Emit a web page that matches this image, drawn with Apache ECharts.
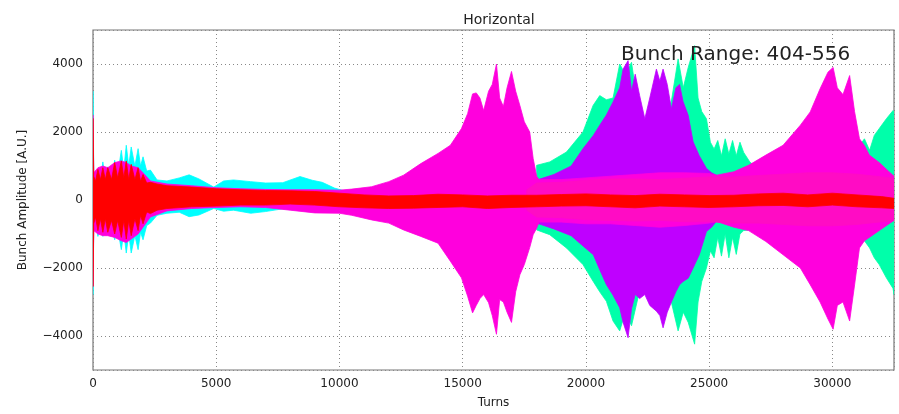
<!DOCTYPE html>
<html>
<head>
<meta charset="utf-8">
<script src="https://cdn.jsdelivr.net/npm/echarts@6/dist/echarts.min.js"></script>
<style>
html,body{margin:0;padding:0;background:#fff;}
#chart{width:899px;height:414px;}
</style>
</head>
<body>
<div id="chart"></div>
<script>
// ---- Data (envelopes of each bunch group) ----
const xTicks = [0, 5000, 10000, 15000, 20000, 25000, 30000];
const yTicks = [-4000, -2000, 0, 2000, 4000];

// cyan group
const cyanTurns = [0, 30, 100, 200, 300, 400, 500, 600, 750, 880, 1000, 1150, 1250, 1350, 1450, 1550, 1700, 1830, 1930, 2030, 2180, 2330, 2600, 3000, 3500, 3900, 4300, 4900, 5300, 5700, 6400, 7000, 7700, 8400, 8900, 9300, 9800, 10300, 10600];
const cyanUpper = [3200, 800, 600, 680, 550, 1120, 600, 975, 650, 1170, 750, 1460, 900, 1610, 1000, 1560, 1000, 1510, 1000, 1270, 850, 880, 590, 560, 650, 740, 620, 380, 560, 590, 540, 500, 510, 690, 580, 520, 350, 250, 150];
const cyanLower = [-2780, -800, -600, -1070, -650, -1070, -700, -1020, -750, -1170, -850, -1460, -950, -1560, -1000, -1560, -1050, -1460, -950, -1170, -750, -680, -450, -390, -360, -490, -440, -250, -330, -300, -390, -340, -260, -300, -350, -330, -320, -220, -150];

// green group
const greenTurns = [18000, 18530, 19210, 19880, 20290, 20560, 20830, 21100, 21370, 21600, 21850, 22200, 22600, 23000, 23400, 23740, 23950, 24150, 24410, 24550, 24700, 24890, 25050, 25200, 25350, 25500, 25650, 25800, 25950, 26100, 26250, 26400, 26650, 27000, 28000, 29000, 30000, 30500, 31000, 31300, 31510, 31700, 31900, 32190, 32460, 32500];
const greenUpper = [1020, 1120, 1410, 2000, 2780, 3070, 2950, 3000, 4000, 3700, 4050, 2300, 2400, 2800, 2600, 4150, 3300, 3900, 4540, 3000, 2600, 2390, 1700, 1500, 1750, 1300, 1800, 1350, 1750, 1300, 1700, 1400, 1120, 900, 1100, 1800, 2500, 2400, 1500, 1800, 1460, 1900, 2100, 2390, 2630, 2600];
const greenLower = [-880, -1020, -1410, -1900, -2390, -2700, -2980, -3560, -3850, -3300, -3700, -2600, -2800, -3000, -2800, -3850, -3300, -3600, -4240, -3000, -2400, -2000, -1500, -1700, -1100, -1650, -1000, -1700, -1100, -1600, -1000, -900, -880, -800, -1000, -1700, -2400, -2300, -1300, -1200, -1410, -1700, -1900, -2290, -2600, -2780];

// purple group
const purpleTurns = [18000, 18700, 19400, 19880, 20300, 20560, 20830, 21100, 21370, 21510, 21710, 21850, 22000, 22180, 22390, 22590, 22860, 23000, 23130, 23300, 23470, 23650, 23800, 23940, 24150, 24350, 24600, 24890, 25100, 25290, 25500];
const purpleUpper = [585, 750, 1000, 1510, 1900, 2200, 2500, 2880, 3300, 3850, 4100, 3200, 3700, 3070, 2390, 3000, 3850, 3500, 3850, 3400, 2680, 3300, 3400, 2900, 2490, 1710, 1300, 930, 800, 730, 650];
const purpleLower = [-680, -850, -1050, -1350, -1610, -2050, -2490, -2800, -3170, -3600, -4050, -3200, -2780, -2900, -2780, -3100, -3270, -3400, -3760, -3300, -3000, -2700, -2490, -2400, -2300, -2000, -1610, -930, -800, -630, -600];

// magenta group
const magentaTurns = [0, 30, 200, 400, 600, 880, 1150, 1350, 1550, 1830, 2030, 2330, 3000, 4000, 5000, 6000, 7000, 8000, 9000, 10000, 10500, 11300, 12000, 12600, 13300, 14000, 14500, 14950, 15200, 15400, 15550, 15700, 15850, 16050, 16200, 16370, 16500, 16650, 16800, 16980, 17150, 17320, 17500, 17720, 17860, 18000, 18100, 19000, 20000, 21000, 22000, 23000, 24000, 25000, 25300, 26000, 26600, 27300, 28000, 28700, 29100, 29500, 29820, 30030, 30200, 30430, 30700, 30900, 31100, 31300, 31500, 31900, 32300, 32500];
const magentaUpper = [2500, 800, 950, 1000, 950, 1100, 1150, 1100, 1000, 950, 800, 560, 470, 420, 360, 330, 310, 300, 300, 290, 320, 390, 540, 730, 1070, 1370, 1610, 2100, 2540, 3120, 3150, 3000, 2630, 3200, 3400, 4000, 3000, 2750, 3300, 3780, 3200, 2780, 2300, 2000, 1220, 700, 600, 600, 650, 700, 750, 800, 800, 780, 730, 830, 1020, 1320, 1610, 2200, 2590, 3270, 3760, 3900, 3300, 3100, 3660, 2600, 1800, 1600, 1320, 1100, 830, 700];
const magentaLower = [-2540, -900, -1000, -1050, -1050, -1100, -1200, -1250, -1150, -1000, -800, -500, -320, -250, -220, -200, -220, -300, -380, -390, -450, -585, -680, -880, -1070, -1270, -1800, -2290, -2830, -3320, -3100, -2900, -2780, -3020, -3400, -3950, -2930, -3000, -3300, -3600, -2700, -2200, -1900, -1400, -1020, -830, -650, -650, -700, -700, -750, -800, -750, -680, -630, -800, -900, -1220, -1610, -2000, -2490, -3000, -3500, -3800, -3100, -3000, -3560, -2500, -1410, -1200, -1100, -900, -700, -600];

// inner pink group
const pinkTurns = [17600, 18000, 19000, 20000, 21000, 22000, 23000, 24000, 25000, 26000, 27000, 28000, 29000, 30000, 31000, 32000, 32500];
const pinkUpper = [300, 500, 520, 580, 620, 620, 600, 640, 680, 680, 720, 760, 800, 800, 760, 680, 640];
const pinkLower = [-300, -500, -520, -580, -600, -620, -600, -640, -640, -680, -680, -720, -760, -760, -720, -640, -600];

// red group
const redTurns = [0, 30, 100, 200, 300, 400, 500, 600, 750, 880, 1000, 1150, 1250, 1350, 1450, 1550, 1700, 1830, 1930, 2030, 2180, 2330, 2600, 3000, 4000, 5000, 6000, 7000, 8000, 9000, 10000, 11000, 12000, 13000, 14000, 15000, 16000, 17000, 18000, 19000, 20000, 21000, 22000, 23000, 24000, 25000, 26000, 27000, 28000, 29000, 30000, 31000, 32000, 32500];
const redUpper = [2400, 700, 550, 900, 600, 950, 600, 950, 600, 1100, 650, 1150, 650, 1150, 600, 1050, 600, 950, 550, 750, 500, 520, 470, 420, 380, 330, 300, 280, 270, 250, 200, 150, 120, 130, 170, 150, 120, 140, 140, 160, 180, 150, 130, 170, 150, 130, 140, 180, 200, 150, 200, 150, 100, 50];
const redLower = [-2540, -700, -500, -900, -550, -950, -550, -950, -600, -1000, -600, -1100, -600, -1150, -600, -1050, -550, -900, -450, -700, -350, -400, -300, -250, -200, -180, -150, -150, -120, -150, -200, -230, -250, -240, -220, -200, -250, -220, -200, -180, -170, -200, -230, -180, -200, -220, -200, -170, -160, -200, -150, -200, -230, -250];

// ---- Chart ----
function band(name, color, turns, upper, lower) {
  return {
    type: 'custom',
    name: name,
    coordinateSystem: 'cartesian2d',
    silent: true,
    clip: true,
    data: [[turns[0], upper[0]]],
    renderItem: function (params, api) {
      const pts = [];
      for (let i = 0; i < turns.length; i++) pts.push(api.coord([turns[i], upper[i]]));
      for (let i = turns.length - 1; i >= 0; i--) pts.push(api.coord([turns[i], lower[i]]));
      return {
        type: 'polygon',
        shape: { points: pts },
        style: { fill: color, stroke: color, lineWidth: 0.8 }
      };
    }
  };
}

const chart = echarts.init(document.getElementById('chart'), null, { renderer: 'canvas' });
const font = 'DejaVu Sans';
chart.setOption({
  backgroundColor: '#ffffff',
  animation: false,
  title: {
    text: 'Horizontal',
    left: 494, top: 8, textAlign: 'center',
    textStyle: { fontFamily: font, fontSize: 14, fontWeight: 'normal', color: '#222' }
  },
  graphic: [{
    type: 'text', left: 621, top: 45, z: 100,
    style: { text: 'Bunch Range: 404-556', fontFamily: font, fontSize: 20, fill: '#222' }
  }],
  grid: { left: 93, right: 5, top: 30, bottom: 41, show: true, borderColor: '#777', borderWidth: 1.2, backgroundColor: 'transparent' },
  xAxis: {
    type: 'value', min: 0, max: 32500, interval: 5000,
    name: 'Turns', nameLocation: 'middle', nameGap: 27,
    nameTextStyle: { fontFamily: font, fontSize: 12, color: '#222' },
    axisLine: { show: false }, axisTick: { show: false },
    axisLabel: { fontFamily: font, fontSize: 12, color: '#222', margin: 8, showMaxLabel: false,
      formatter: function (v) { return xTicks.indexOf(v) >= 0 ? String(v) : ''; } },
    splitLine: { show: true, lineStyle: { type: [1, 3], color: '#888', width: 1 } }
  },
  yAxis: {
    type: 'value', min: -5000, max: 5000, splitNumber: 5,
    name: 'Bunch Amplitude [A.U.]', nameLocation: 'middle', nameGap: 64,
    nameTextStyle: { fontFamily: font, fontSize: 12, color: '#222' },
    axisLine: { show: false }, axisTick: { show: false },
    axisLabel: { fontFamily: font, fontSize: 12, color: '#222', margin: 10, showMinLabel: false, showMaxLabel: false,
      formatter: function (v) { return yTicks.indexOf(v) >= 0 ? String(v).replace('-', '\u2212') : ''; } },
    splitLine: { show: true, lineStyle: { type: [1, 3], color: '#888', width: 1 } }
  },
  series: [
    band('cyan', '#00FFFF', cyanTurns, cyanUpper, cyanLower),
    band('green', '#00FFAA', greenTurns, greenUpper, greenLower),
    band('purple', '#BF00FF', purpleTurns, purpleUpper, purpleLower),
    band('magenta', '#FF00DD', magentaTurns, magentaUpper, magentaLower),
    band('pink', '#FF0CC4', pinkTurns, pinkUpper, pinkLower),
    band('red', '#FF0000', redTurns, redUpper, redLower)
  ]
});
</script>
</body>
</html>
